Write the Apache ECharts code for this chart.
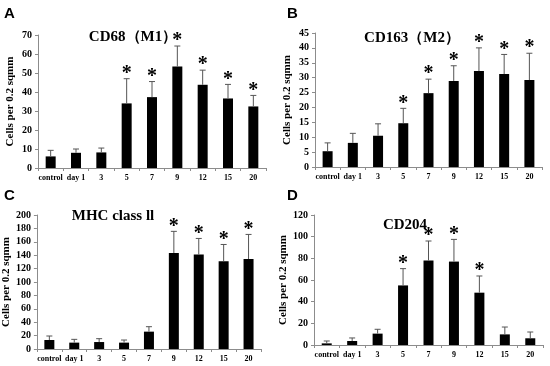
<!DOCTYPE html>
<html><head><meta charset="utf-8">
<script src="https://cdn.jsdelivr.net/npm/echarts@6/dist/echarts.min.js"></script>
<style>html,body{margin:0;padding:0;background:#fff}#c{width:550px;height:366px}</style>
</head><body><div id="c"></div>
<script>
const categories = ['control','day 1','3','5','7','9','12','15','20'];

const cd68Mean  = [6.1, 8.0, 8.2, 34, 37.3, 53.4, 43.8, 36.6, 32.4];
const cd68Err   = [9.3, 10, 10.5, 47, 45.5, 64.2, 51.5, 44, 38.2];
const cd68Star  = [0,0,0,1,1,1,1,1,1];

const cd163Mean = [5.3, 8.1, 10.5, 14.7, 24.8, 28.9, 32.2, 31.2, 29.2];
const cd163Err  = [8.1, 11.3, 14.5, 19.7, 29.5, 34, 40, 37.8, 38.2];
const cd163Star = [0,0,0,1,1,1,1,1,1];

const mhcMean   = [13.4, 9.5, 10.4, 9.5, 25.9, 143.3, 141, 131, 134.3];
const mhcErr    = [19.4, 14.4, 15.4, 13.4, 33.3, 175.6, 165, 156, 171];
const mhcStar   = [0,0,0,0,0,1,1,1,1];

const cd204Mean = [1.5, 3.7, 10.5, 55, 78, 77, 48.3, 9.8, 6.2];
const cd204Err  = [3.7, 6.5, 14.5, 70.5, 96, 97.5, 63.7, 16.6, 12];
const cd204Star = [0,0,0,1,1,1,1,0,0];

const panelTitles = ['CD68（M1）','CD163（M2）','MHC class ll','CD204'];
const panelLetters = ['A','B','C','D'];
const yMax = [70, 45, 200, 120];
const yInterval = [10, 5, 20, 20];

const panels = [
  {mean: cd68Mean, err: cd68Err, star: cd68Star},
  {mean: cd163Mean, err: cd163Err, star: cd163Star},
  {mean: mhcMean, err: mhcErr, star: mhcStar},
  {mean: cd204Mean, err: cd204Err, star: cd204Star}
];

const grids = [
  {left: 38, top: 35, width: 228, height: 133},
  {left: 315, top: 33, width: 227, height: 134},
  {left: 33, top: 215, width: 228, height: 134},
  {left: 314, top: 215, width: 229, height: 130}
];
const titlePos = [[133, 37], [412, 38], [113, 216], [405, 225]];
const letterPos = [[4, 6], [287, 6], [4, 188], [287, 188]];

const serif = '"Liberation Serif","Times New Roman",serif';
const axisColor = '#8c8c8c';

const xAxes = [], yAxes = [], series = [], graphics = [];
panels.forEach((p, i) => {
  xAxes.push({
    type: 'category', gridIndex: i, data: categories,
    axisLine: {lineStyle: {color: axisColor, width: 1}},
    axisTick: {show: true, length: 3, lineStyle: {color: axisColor}},
    axisLabel: {color: '#000', fontFamily: serif, fontWeight: 'bold', fontSize: 8, margin: 6, interval: 0}
  });
  yAxes.push({
    type: 'value', gridIndex: i, min: 0, max: yMax[i], interval: yInterval[i],
    name: 'Cells per 0.2 sqmm', nameLocation: 'middle', nameGap: 22,
    nameTextStyle: {color: '#000', fontFamily: serif, fontWeight: 'bold', fontSize: 11},
    axisLine: {show: true, lineStyle: {color: axisColor, width: 1}},
    axisTick: {show: true, length: 3, lineStyle: {color: axisColor}},
    splitLine: {show: false},
    axisLabel: {color: '#000', fontFamily: serif, fontWeight: 'bold', fontSize: 10, margin: 6}
  });
  series.push({
    type: 'bar', xAxisIndex: i, yAxisIndex: i, data: p.mean,
    barWidth: 10, itemStyle: {color: '#000'}, z: 2
  });
  series.push({
    type: 'custom', xAxisIndex: i, yAxisIndex: i, z: 3,
    data: p.mean.map((m, k) => [k, m, p.err[k], p.star[k]]),
    encode: {x: 0, y: [1, 2]},
    renderItem: function (params, api) {
      const k = api.value(0);
      const a = api.coord([k, api.value(1)]);
      const b = api.coord([k, api.value(2)]);
      const children = [
        {type: 'line', shape: {x1: a[0], y1: a[1], x2: b[0], y2: b[1]}, style: {stroke: '#555', lineWidth: 1}},
        {type: 'line', shape: {x1: b[0] - 3, y1: b[1], x2: b[0] + 3, y2: b[1]}, style: {stroke: '#555', lineWidth: 1}}
      ];
      if (api.value(3)) {
        children.push({type: 'text', x: b[0], y: b[1] - 5,
          style: {text: '*', fill: '#000', font: 'bold 20px ' + serif, align: 'center', verticalAlign: 'middle'}});
      }
      return {type: 'group', children: children};
    }
  });
  graphics.push({type: 'text', x: titlePos[i][0], y: titlePos[i][1],
    style: {text: panelTitles[i], fill: '#000', font: 'bold 15px ' + serif, align: 'center', verticalAlign: 'middle'}});
  graphics.push({type: 'text', x: letterPos[i][0], y: letterPos[i][1],
    style: {text: panelLetters[i], fill: '#000', font: 'bold 15px "Liberation Sans",Arial,sans-serif'}});
});

const chart = echarts.init(document.getElementById('c'));
chart.setOption({
  animation: false,
  grid: grids,
  xAxis: xAxes,
  yAxis: yAxes,
  series: series,
  graphic: graphics
});
</script>
</body></html>
